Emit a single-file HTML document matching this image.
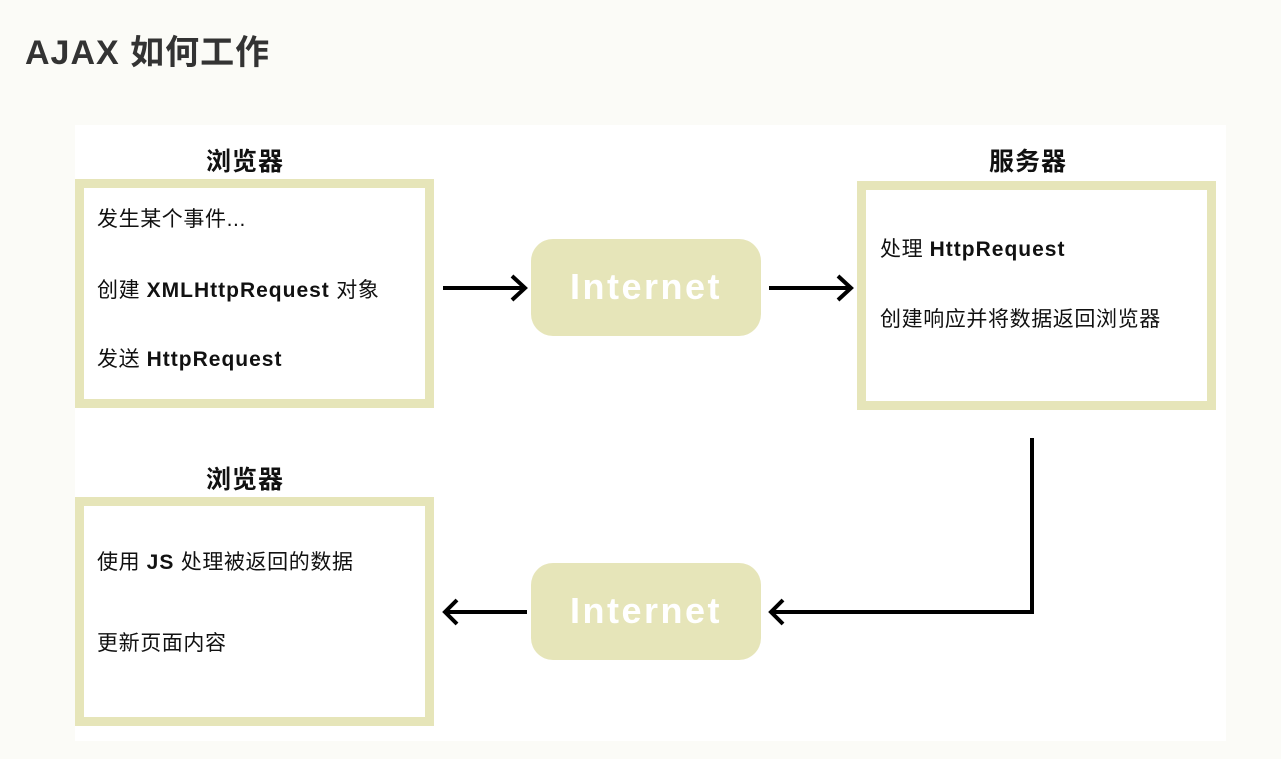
<!DOCTYPE html>
<html><head><meta charset="utf-8"><style>
body{margin:0;width:1281px;height:759px;background:#fbfbf7;position:relative;overflow:hidden;font-family:"Liberation Sans","Noto Sans CJK SC",sans-serif;}
.a{position:absolute}
h1{position:absolute;left:25px;top:31px;margin:0;font-size:34px;font-weight:bold;color:#333;line-height:44px;letter-spacing:1px}
.panel{left:75px;top:125px;width:1151px;height:616px;background:#fff}
.box{box-sizing:border-box;border:9px solid #e6e5b9;background:#fff;width:359px;height:229px}
.t{font-size:21px;color:#111;white-space:nowrap;letter-spacing:0.6px}
.t b{letter-spacing:1px}
.h{font-size:25px;font-weight:bold;color:#111;letter-spacing:1px}
.pill{background:#e6e5b9;border-radius:22px;width:230px;height:97px;color:#fff;font-weight:bold;font-size:36px;text-align:center;line-height:95px;letter-spacing:2.5px}
</style></head><body>
<h1>AJAX 如何工作</h1>
<div class="a panel"></div>
<div class="a h" style="left:206px;top:142px">浏览器</div>
<div class="a h" style="left:989px;top:142px">服务器</div>
<div class="a h" style="left:206px;top:460px">浏览器</div>
<div class="a box" style="left:75px;top:179px"></div>
<div class="a box" style="left:857px;top:181px"></div>
<div class="a box" style="left:75px;top:497px"></div>
<div class="a t" style="left:97px;top:203px">发生某个事件...</div>
<div class="a t" style="left:97px;top:274px">创建 <b>XMLHttpRequest</b> 对象</div>
<div class="a t" style="left:97px;top:343px">发送 <b>HttpRequest</b></div>
<div class="a t" style="left:880px;top:233px">处理 <b>HttpRequest</b></div>
<div class="a t" style="left:880px;top:303px">创建响应并将数据返回浏览器</div>
<div class="a t" style="left:97px;top:546px">使用 <b>JS</b> 处理被返回的数据</div>
<div class="a t" style="left:97px;top:627px">更新页面内容</div>
<div class="a pill" style="left:531px;top:239px">Internet</div>
<div class="a pill" style="left:531px;top:563px">Internet</div>
<svg class="a" style="left:0;top:0" width="1281" height="759">
<g stroke="#000" stroke-width="4" fill="none">
<line x1="443" y1="288" x2="525" y2="288"/><polyline points="512,276 525,288 512,300"/>
<line x1="769" y1="288" x2="851" y2="288"/><polyline points="838,276 851,288 838,300"/>
<polyline points="1032,438 1032,612 772,612"/><polyline points="783,600 771,612 783,624"/>
<line x1="527" y1="612" x2="446" y2="612"/><polyline points="457,600 445,612 457,624"/>
</g></svg>
</body></html>
